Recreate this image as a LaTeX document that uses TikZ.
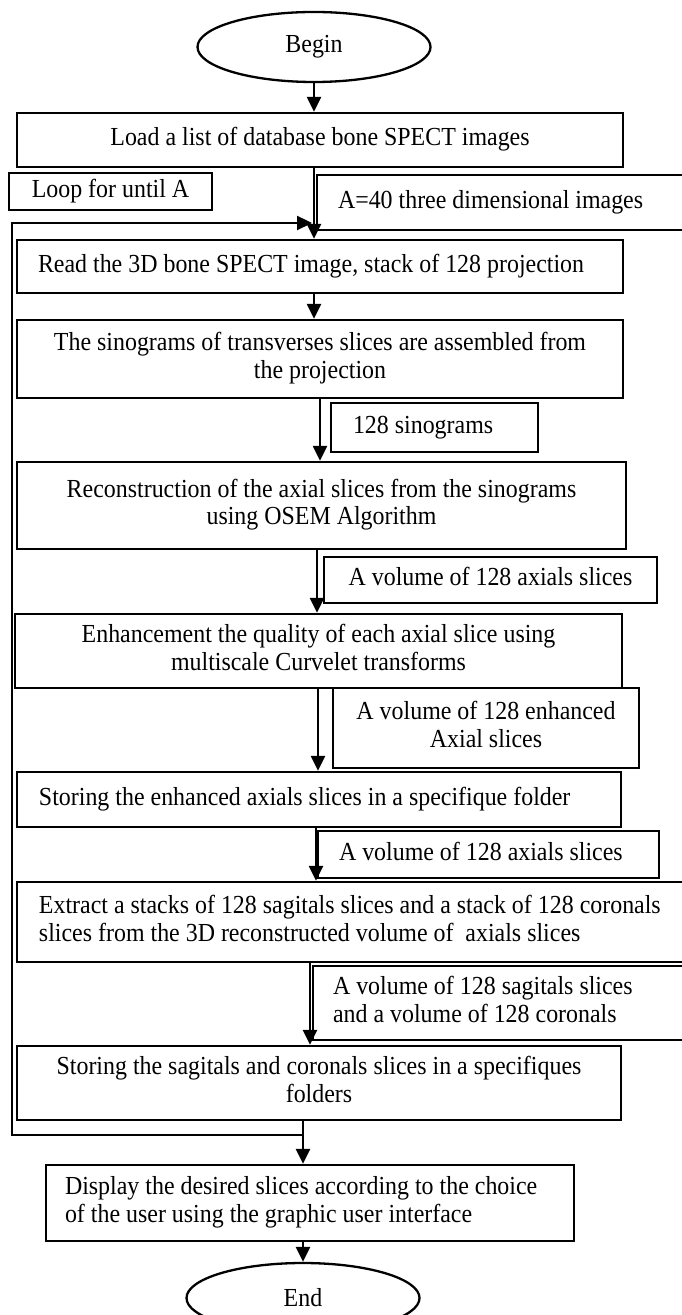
\documentclass[tikz,border=0pt]{standalone}
\usepackage{fontspec}
\setmainfont{Liberation Serif}[FakeStretch=0.92]
\usetikzlibrary{shapes.geometric,arrows.meta}
\newcommand\myC[1]{\begin{tabular}{@{}c@{}}#1\end{tabular}}
\newcommand\myL[2]{\makebox[#1][l]{\begin{tabular}{@{}l@{}}#2\end{tabular}}}
\begin{document}
\begin{tikzpicture}[x=0.5pt,y=-0.5pt,
  txt/.style={font=\fontsize{13}{13.8}\selectfont},
  box/.style={draw, line width=1.15pt, inner sep=0pt, txt},
  corners/.style n args={4}{minimum width={(#3-#1)*0.5pt}, minimum height={(#4-#2)*0.5pt}, at={({(#1+#3)/2},{(#2+#4)/2})}},
  term/.style={draw, ellipse, line width=1.15pt, minimum width=116.5pt, minimum height=35pt, inner sep=0pt, txt},
  arr/.style={line width=1.15pt, -{Triangle[width=7pt,length=7.5pt]}}]
\useasboundingbox (0,0) rectangle (681,1315);
\fill[white] (0,0) rectangle (681,1315);

% x positions of vertical connectors
\coordinate (x320) at (320,0);
\coordinate (x317) at (317,0);
\coordinate (x318) at (318,0);
\coordinate (x316) at (316,0);
\coordinate (x310) at (310,0);

\node[term] (begin) at (314,47) {Begin};
\node[box, corners={17}{113}{623}{167}] (load) {\myC{Load a list of database bone SPECT images}};
\node[box, corners={9}{173}{212}{210}] (loop) {\myC{Loop for until A}};
\node[box, corners={317}{175}{700}{230}] (acount) {\myL{170.5pt}{A=40 three dimensional images}};
\node[box, corners={17}{240}{623}{293}] (read) {\myL{282pt}{Read the 3D bone SPECT image, stack of 128 projection}};
\node[box, corners={17}{320}{623}{398}] (sino) {\myC{The sinograms of transverses slices are assembled from\\the projection}};
\node[box, corners={331}{403}{538}{452}] (nsino) {\myL{81.5pt}{128 sinograms}};
\node[box, corners={17}{462}{626}{549}] (recon) {\myC{Reconstruction of the axial slices from the sinograms\\using OSEM Algorithm}};
\node[box, corners={324}{557}{657}{603}] (axa) {\myC{A volume of 128 axials slices}};
\node[box, corners={15}{614}{622}{688}] (enh) {\myC{Enhancement the quality of each axial slice using\\multiscale Curvelet transforms}};
\node[box, corners={333}{688}{639}{768}] (enhvol) {\myC{A volume of 128 enhanced\\Axial slices}};
\node[box, corners={17}{772}{621}{827}] (store) {\myL{280pt}{Storing the enhanced axials slices in a specifique folder}};
\node[box, corners={318}{831}{659}{878}] (axb) {\myL{149.5pt}{A volume of 128 axials slices}};
\node[box, corners={17}{882}{700}{962}] (extract) {\myL{319.5pt}{Extract a stacks of 128 sagitals slices and a stack of 128 coronals\\slices from the 3D reconstructed volume of\ \ axials slices}};
\node[box, corners={313}{966}{700}{1040}] (sagvol) {\myL{173.5pt}{A volume of 128 sagitals slices\\and a volume of 128 coronals}};
\node[box, corners={17}{1046}{621}{1120}] (stsag) {\myC{Storing the sagitals and coronals slices in a specifiques\\folders}};
\node[box, corners={46}{1165}{574}{1241}] (display) {\myL{245pt}{Display the desired slices according to the choice\\of the user using the graphic user interface}};
\node[term] (end) at (303,1298) {End};

% main flow
\draw[arr] (begin.south) -- (begin.south |- load.north);
\draw[arr] (begin.south |- load.south) -- (begin.south |- read.north);
\draw[arr] (begin.south |- read.south) -- (begin.south |- sino.north);
\draw[arr] (sino.south -| x320) -- (x320 |- recon.north);
\draw[arr] (recon.south -| x317) -- (x317 |- enh.north);
\draw[arr] (enh.south -| x318) -- (x318 |- store.north);
\draw[arr] (store.south -| x316) -- (x316 |- extract.north);
\draw[arr] (extract.south -| x310) -- (x310 |- stsag.north);
\draw[arr] (stsag.south -| end.north) -- (display.north -| end.north);
\draw[arr] (display.south -| end.north) -- (end.north);

% loop back
\coordinate (lb) at (303,1135);
\coordinate (ll) at (12,1135);
\coordinate (lt) at (12,223);
\coordinate (lr) at (312,223);
\draw[arr, line join=miter] (lb) -- (ll) -- (lt) -- (lr);
\end{tikzpicture}
\end{document}
